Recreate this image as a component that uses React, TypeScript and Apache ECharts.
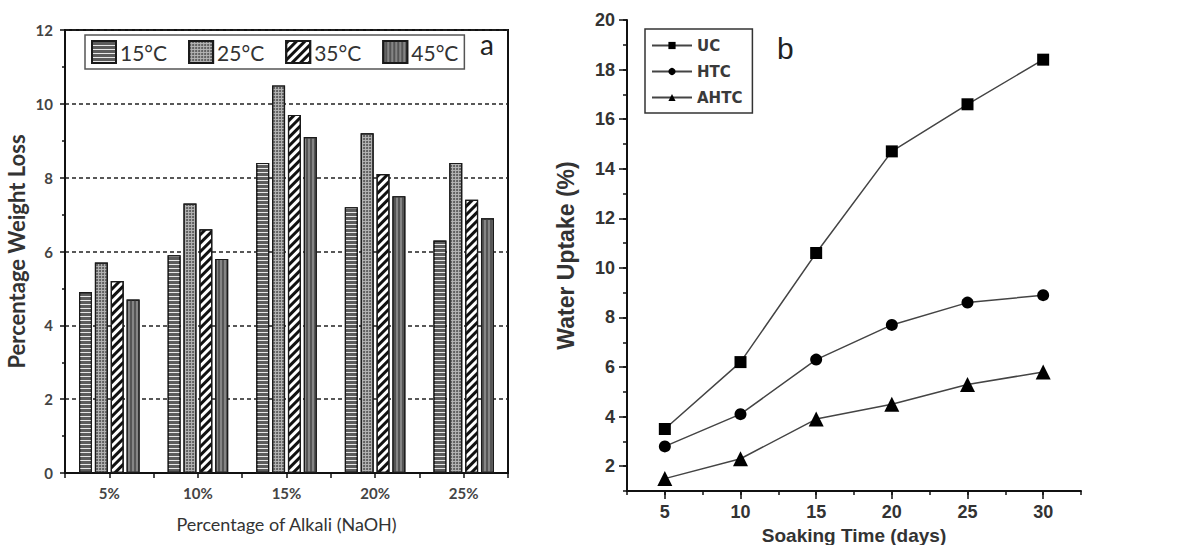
import React, { useEffect, useRef } from "react";
import * as echarts from "echarts";

const alkaliCategories = ["5%", "10%", "15%", "20%", "25%"];
const tempNames = ["15°C", "25°C", "35°C", "45°C"];
const loss15 = [4.9, 5.9, 8.4, 7.2, 6.3];
const loss25 = [5.7, 7.3, 10.5, 9.2, 8.4];
const loss35 = [5.2, 6.6, 9.7, 8.1, 7.4];
const loss45 = [4.7, 5.8, 9.1, 7.5, 6.9];

const soakDays = [5, 10, 15, 20, 25, 30];
const uptakeUC = [3.5, 6.2, 10.6, 14.7, 16.6, 18.4];
const uptakeHTC = [2.8, 4.1, 6.3, 7.7, 8.6, 8.9];
const uptakeAHTC = [1.5, 2.3, 3.9, 4.5, 5.3, 5.8];

const dayTicks = [5, 10, 15, 20, 25, 30];
const uptakeTicks = [2, 4, 6, 8, 10, 12, 14, 16, 18, 20];

const decals: any[] = [
  { symbol: "rect", symbolSize: 1, color: "#e8e8e8", backgroundColor: "#5c5c5c", dashArrayX: [1, 0], dashArrayY: [1, 2.2], rotation: 0 },
  { symbol: "circle", symbolSize: 1, color: "#555", backgroundColor: "#b4b4b4", dashArrayX: [2, 1], dashArrayY: [2, 1], rotation: 0 },
  { symbol: "rect", symbolSize: 1, color: "#111", backgroundColor: "#fff", dashArrayX: [1, 0], dashArrayY: [2.2, 2.8], rotation: -Math.PI / 4 },
  { symbol: "rect", symbolSize: 1, color: "#555", backgroundColor: "#858585", dashArrayX: [1, 0], dashArrayY: [1.5, 1.5], rotation: Math.PI / 2 },
];

export default function App() {
  const ref = useRef<HTMLDivElement>(null);
  useEffect(() => {
    document.body.style.margin = "0";
    const chart = echarts.init(ref.current!, undefined, { renderer: "svg" });
    const lossData = [loss15, loss25, loss35, loss45];
    const leftFont = "Lato, 'Open Sans', sans-serif";
    const rightFont = "'Liberation Sans', Arial, sans-serif";
    const legendFont = "'DejaVu Sans', sans-serif";
    const barSeries = tempNames.map((name, i) => ({
      name,
      type: "bar",
      xAxisIndex: 0,
      yAxisIndex: 0,
      data: lossData[i],
      barWidth: 13,
      barGap: "22%",
      itemStyle: { color: decals[i].backgroundColor, borderColor: "#1a1a1a", borderWidth: 1.2, decal: decals[i] },
    }));
    const lineDefs = [
      { name: "UC", data: uptakeUC, symbol: "rect", size: 12 },
      { name: "HTC", data: uptakeHTC, symbol: "circle", size: 12 },
      { name: "AHTC", data: uptakeAHTC, symbol: "triangle", size: 15 },
    ];
    const lineSeries = lineDefs.map((d) => ({
      name: d.name,
      type: "line",
      xAxisIndex: 2,
      yAxisIndex: 1,
      data: soakDays.map((x, j) => [x, d.data[j]]),
      symbol: d.symbol,
      symbolSize: d.size,
      lineStyle: { color: "#444", width: 1.5 },
      itemStyle: { color: "#000" },
    }));
    chart.setOption({
      animation: false,
      backgroundColor: "#fff",
      aria: { enabled: false },
      grid: [
        { left: 65, top: 30, width: 443, height: 443, show: true, borderColor: "#111", borderWidth: 2, backgroundColor: "transparent", outerBoundsMode: "none", containLabel: false },
        { left: 627, top: 20, width: 454, height: 471, outerBoundsMode: "none", containLabel: false },
      ],
      legend: [
        {
          data: tempNames,
          left: 85,
          top: 35,
          orient: "horizontal",
          itemWidth: 24,
          itemHeight: 22,
          itemGap: 21,
          icon: "rect",
          padding: [5, 6],
          borderColor: "#555",
          borderWidth: 1.5,
          textStyle: { fontFamily: leftFont, fontSize: 21, color: "#333", padding: [0, 0, 0, -1] },
        },
        {
          data: ["UC", "HTC", "AHTC"],
          left: 645,
          top: 29,
          orient: "vertical",
          itemWidth: 40,
          itemHeight: 9,
          itemGap: 11,
          padding: [9, 10, 8, 6],
          borderColor: "#333",
          borderWidth: 1.5,
          textStyle: { fontFamily: legendFont, fontSize: 15, fontWeight: "bold", color: "#3a3a3a" },
        },
      ],
      xAxis: [
        {
          type: "category",
          gridIndex: 0,
          data: alkaliCategories,
          axisLine: { lineStyle: { color: "#111", width: 2 } },
          axisTick: { show: false },
          axisLabel: { fontFamily: leftFont, fontSize: 15, fontWeight: "bold", color: "#444", margin: 12 },
          name: "Percentage of Alkali (NaOH)",
          nameLocation: "middle",
          nameGap: 42,
          nameTextStyle: { fontFamily: leftFont, fontSize: 18, color: "#333" },
        },
        {
          type: "value",
          gridIndex: 0,
          min: 0,
          max: 5,
          interval: 0.5,
          position: "bottom",
          axisLine: { show: false },
          axisTick: { show: true, length: 5, lineStyle: { color: "#111", width: 1.5 } },
          axisLabel: { show: false },
          splitLine: { show: false },
        },
        {
          type: "value",
          gridIndex: 1,
          min: 2.5,
          max: 32.5,
          interval: 2.5,
          axisLine: { onZero: false, lineStyle: { color: "#111", width: 2 } },
          axisTick: { length: 4, lineStyle: { color: "#111", width: 1.5 } },
          axisLabel: { show: false },
          splitLine: { show: false },
        },
        {
          type: "value",
          gridIndex: 1,
          min: 2.5,
          max: 32.5,
          position: "bottom",
          axisLine: { show: false },
          axisTick: { length: 8, customValues: dayTicks, lineStyle: { color: "#111", width: 1.5 } },
          axisLabel: { customValues: dayTicks, fontFamily: rightFont, fontSize: 18, fontWeight: "bold", color: "#333", margin: 12 },
          splitLine: { show: false },
          name: "Soaking Time (days)",
          nameLocation: "middle",
          nameGap: 25,
          nameTextStyle: { fontFamily: rightFont, fontSize: 19, fontWeight: "bold", color: "#333" },
        },
      ],
      yAxis: [
        {
          type: "value",
          gridIndex: 0,
          min: 0,
          max: 12,
          interval: 2,
          axisLine: { show: true, lineStyle: { color: "#111", width: 2 } },
          axisTick: { show: true, length: 5, lineStyle: { color: "#111", width: 1.5 } },
          minorTick: { show: true, splitNumber: 2, length: 3, lineStyle: { color: "#111", width: 1.5 } },
          axisLabel: { fontFamily: leftFont, fontSize: 15, fontWeight: "bold", color: "#444", margin: 12 },
          splitLine: { show: true, lineStyle: { color: "#222", width: 1.5, type: [4, 3] } },
          name: "Percentage Weight Loss",
          nameLocation: "middle",
          nameGap: 38,
          nameTextStyle: { fontFamily: leftFont, fontSize: 22, fontWeight: "bold", color: "#333" },
        },
        {
          type: "value",
          gridIndex: 1,
          min: 1,
          max: 20,
          interval: 1,
          axisLine: { show: true, onZero: false, lineStyle: { color: "#111", width: 2 } },
          axisTick: { show: true, length: 4, lineStyle: { color: "#111", width: 1.5 } },
          axisLabel: { show: false },
          splitLine: { show: false },
        },
        {
          type: "value",
          gridIndex: 1,
          min: 1,
          max: 20,
          position: "left",
          axisLine: { show: false },
          axisTick: { show: true, length: 8, customValues: uptakeTicks, lineStyle: { color: "#111", width: 1.5 } },
          axisLabel: { customValues: uptakeTicks, fontFamily: rightFont, fontSize: 18, fontWeight: "bold", color: "#333", margin: 12 },
          splitLine: { show: false },
          name: "Water Uptake (%)",
          nameLocation: "middle",
          nameGap: 50,
          nameTextStyle: { fontFamily: rightFont, fontSize: 23, fontWeight: "bold", color: "#333" },
        },
      ],
      graphic: [
        { type: "text", left: 480, top: 30, style: { text: "a", fontFamily: leftFont, fontSize: 28, fill: "#222" } },
        { type: "text", left: 777, top: 33, style: { text: "b", fontFamily: rightFont, fontSize: 30, fill: "#222" } },
      ],
      series: [...barSeries, ...lineSeries],
    });
    return () => chart.dispose();
  }, []);
  return <div ref={ref} style={{ width: 1182, height: 545 }} />;
}
